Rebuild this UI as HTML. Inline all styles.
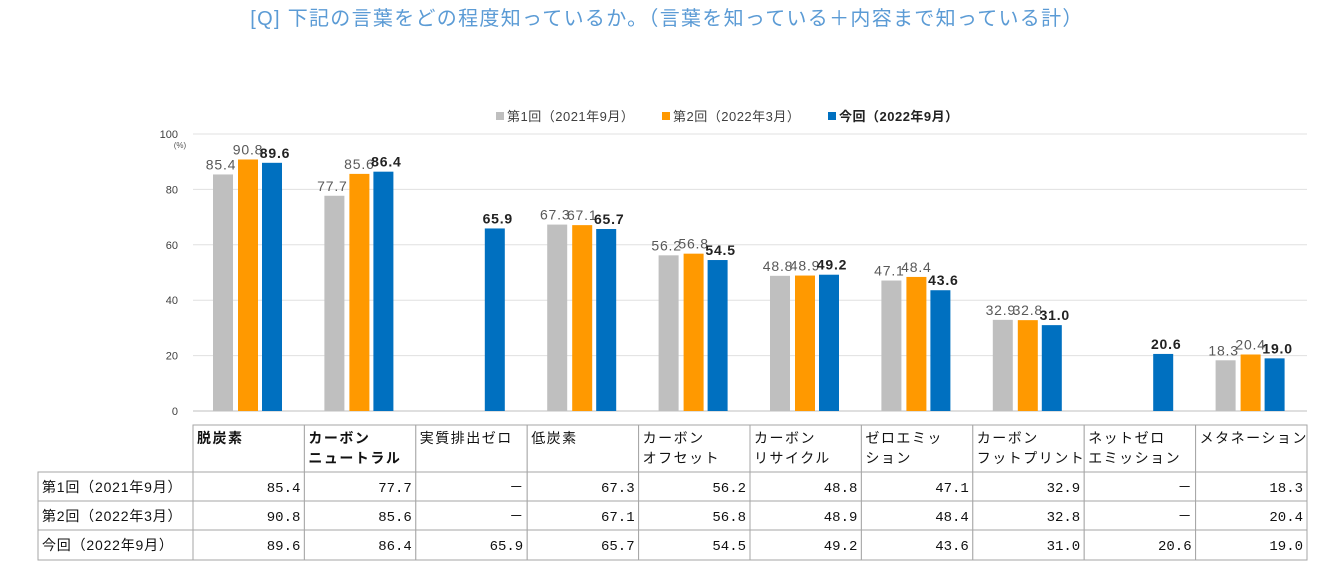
<!DOCTYPE html>
<html><head><meta charset="utf-8"><style>
body{margin:0;background:#fff;}
svg{display:block;font-family:"Liberation Sans","Noto Sans CJK JP",sans-serif;}
</style></head><body>
<svg id="c" width="1329" height="566" viewBox="0 0 1329 566">
<text x="667" y="25" text-anchor="middle" font-size="20" letter-spacing="1.3" fill="#5b9bd5">[Q] 下記の言葉をどの程度知っているか。（言葉を知っている＋内容まで知っている計）</text>
<g id="legend" font-size="13">
<rect x="496" y="112" width="8" height="8" fill="#bfbfbf"/><text x="507" y="121" fill="#404040" letter-spacing="0.5">第1回（2021年9月）</text>
<rect x="662" y="112" width="8" height="8" fill="#ff9900"/><text x="673" y="121" fill="#404040" letter-spacing="0.5">第2回（2022年3月）</text>
<rect x="828" y="112" width="8" height="8" fill="#0070c0"/><text x="839" y="121" fill="#222" font-weight="bold" letter-spacing="0.5">今回（2022年9月）</text>
</g>
<text x="180" y="148" font-size="8" fill="#555" text-anchor="middle">(%)</text>
<g id="grid"></g><g id="bars"></g><g id="table"></g>
</svg>
<script>
const categories=[["脱炭素"],["カーボン","ニュートラル"],["実質排出ゼロ"],["低炭素"],["カーボン","オフセット"],["カーボン","リサイクル"],["ゼロエミッ","ション"],["カーボン","フットプリント"],["ネットゼロ","エミッション"],["メタネーション"]];
const boldCats=[true,true,false,false,false,false,false,false,false,false];
const series1=[85.4,77.7,null,67.3,56.2,48.8,47.1,32.9,null,18.3];
const series2=[90.8,85.6,null,67.1,56.8,48.9,48.4,32.8,null,20.4];
const series3=[89.6,86.4,65.9,65.7,54.5,49.2,43.6,31.0,20.6,19.0];
const seriesNames=["第1回（2021年9月）","第2回（2022年3月）","今回（2022年9月）"];
const yTicks=[0,20,40,60,80,100];
const NS="http://www.w3.org/2000/svg";
const X0=193,X1=1307,Y0=411,Y100=134;
const cw=(X1-X0)/categories.length;
const y=v=>Y0-(v/100)*(Y0-Y100);
const cx=i=>X0+i*cw;
function mk(tag,at,par,txt){const e=document.createElementNS(NS,tag);for(const k in at)e.setAttribute(k,at[k]);if(txt!=null)e.textContent=txt;par.appendChild(e);return e;}
const grid=document.getElementById('grid');
yTicks.forEach(t=>{
 const l=mk('line',{x1:X0,x2:X1,y1:y(t),y2:y(t),stroke:t===0?'#bfbfbf':'#e0e0e0','stroke-width':1},grid);
 
 
 const tx=mk('text',{x:178,y:y(t)+4,'text-anchor':'end','font-size':11,fill:'#404040'},grid,String(t));
 
 
});
const bars=document.getElementById('bars');
const all=[series1,series2,series3],cols=['#bfbfbf','#ff9900','#0070c0'],offs=[20,45,69],lofs=[-2,0,3];
all.forEach((s,si)=>s.forEach((v,i)=>{
 if(v==null)return;
 const x=cx(i)+offs[si];
 const r=mk('rect',{x:x,y:y(v),width:20,height:Y0-y(v),fill:cols[si]},bars);
 
 
 const t=mk('text',{x:x+10+lofs[si],y:y(v)-5,'text-anchor':'middle','font-size':14,'letter-spacing':'0.8',fill:si===2?'#222':'#595959','font-weight':si===2?'bold':'normal'},bars,v.toFixed(1));
 
 
}));
const tb=document.getElementById('table');
const rows=[[425,472],[472,501],[501,530],[530,560]];
const st='#a6a6a6';
categories.forEach((c,i)=>{
 const x=cx(i);
 const r=mk('rect',{x:x,y:425,width:cw,height:47,fill:'#fff',stroke:st},tb);
 
 
 c.forEach((ln,k)=>{
  const t=mk('text',{x:x+4,y:443+k*20,'font-size':14,fill:'#111','font-weight':boldCats[i]?'bold':'normal','letter-spacing':'1.5'},tb,ln);
  
  
 });
});
all.forEach((s,si)=>{
 const [ya,yb]=rows[si+1];
 const r=mk('rect',{x:38,y:ya,width:X0-38,height:yb-ya,fill:'#fff',stroke:st},tb);
 
 
 const t=mk('text',{x:42,y:ya+20,'font-size':14,fill:'#111','letter-spacing':'0.8'},tb,seriesNames[si]);
 
 
 s.forEach((v,i)=>{
  const x=cx(i);
  const c=mk('rect',{x:x,y:ya,width:cw,height:yb-ya,fill:'#fff',stroke:st},tb);
  
  
  const vt=mk('text',{x:x+cw-4,y:ya+20,'text-anchor':'end','font-size':14,fill:'#111','font-family':'"Liberation Mono",monospace'},tb,v==null?'－':v.toFixed(1));
  
  
 });
});
</script>
</body></html>
